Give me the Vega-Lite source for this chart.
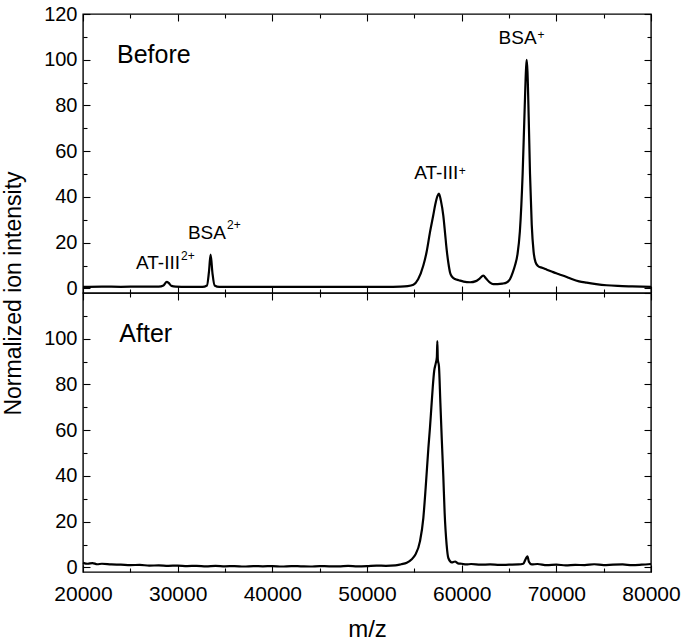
{
  "$schema": "https://vega.github.io/schema/vega-lite/v6.json",
  "padding": {"left": 1, "top": 3, "right": 5, "bottom": 5},
  "bounds": "flush",
  "background": "white",
  "config": {
    "view": {"stroke": "black", "strokeWidth": 1.4},
    "font": "Liberation Sans",
    "axis": {"domain": false, "grid": false, "tickColor": "black", "tickWidth": 1.1, "labelFont": "Liberation Sans", "labelFontSize": 20, "labelColor": "black", "titleFont": "Liberation Sans", "titleFontWeight": "normal", "titleColor": "black", "format": "d", "labelFlush": false}
  },
  "datasets": {
    "spec": [
      {"p": "Before", "mz": 20000, "v": 0.7}, {"p": "Before", "mz": 22000, "v": 0.8}, {"p": "Before", "mz": 24000, "v": 0.7}, {"p": "Before", "mz": 26000, "v": 0.8}, {"p": "Before", "mz": 28000, "v": 0.8},
      {"p": "Before", "mz": 28500, "v": 1.3}, {"p": "Before", "mz": 28850, "v": 2.9}, {"p": "Before", "mz": 29050, "v": 2.4}, {"p": "Before", "mz": 29350, "v": 1.1}, {"p": "Before", "mz": 29800, "v": 0.8},
      {"p": "Before", "mz": 31000, "v": 0.7}, {"p": "Before", "mz": 32600, "v": 0.7}, {"p": "Before", "mz": 33100, "v": 1.3}, {"p": "Before", "mz": 33300, "v": 7}, {"p": "Before", "mz": 33480, "v": 14.8},
      {"p": "Before", "mz": 33680, "v": 6.5}, {"p": "Before", "mz": 33900, "v": 1.3}, {"p": "Before", "mz": 34400, "v": 0.7}, {"p": "Before", "mz": 37000, "v": 0.7}, {"p": "Before", "mz": 41000, "v": 0.7},
      {"p": "Before", "mz": 45000, "v": 0.7}, {"p": "Before", "mz": 49000, "v": 0.7}, {"p": "Before", "mz": 52000, "v": 0.7}, {"p": "Before", "mz": 53500, "v": 0.8}, {"p": "Before", "mz": 54300, "v": 1.0},
      {"p": "Before", "mz": 54900, "v": 1.6}, {"p": "Before", "mz": 55400, "v": 4}, {"p": "Before", "mz": 55950, "v": 10}, {"p": "Before", "mz": 56300, "v": 16}, {"p": "Before", "mz": 56650, "v": 24.5},
      {"p": "Before", "mz": 57000, "v": 32}, {"p": "Before", "mz": 57200, "v": 36.5}, {"p": "Before", "mz": 57450, "v": 40.5}, {"p": "Before", "mz": 57600, "v": 41.5}, {"p": "Before", "mz": 57800, "v": 38.5},
      {"p": "Before", "mz": 58060, "v": 31.8}, {"p": "Before", "mz": 58250, "v": 24}, {"p": "Before", "mz": 58410, "v": 17.2}, {"p": "Before", "mz": 58600, "v": 11}, {"p": "Before", "mz": 58770, "v": 7},
      {"p": "Before", "mz": 59000, "v": 5}, {"p": "Before", "mz": 59300, "v": 4.1}, {"p": "Before", "mz": 59700, "v": 3.6}, {"p": "Before", "mz": 60200, "v": 3.0}, {"p": "Before", "mz": 60900, "v": 2.7},
      {"p": "Before", "mz": 61500, "v": 3.2}, {"p": "Before", "mz": 61900, "v": 4.3}, {"p": "Before", "mz": 62280, "v": 5.6}, {"p": "Before", "mz": 62600, "v": 4.2}, {"p": "Before", "mz": 63000, "v": 2.5},
      {"p": "Before", "mz": 63340, "v": 1.9}, {"p": "Before", "mz": 63800, "v": 1.9}, {"p": "Before", "mz": 64300, "v": 2.1}, {"p": "Before", "mz": 64750, "v": 2.6}, {"p": "Before", "mz": 65100, "v": 4},
      {"p": "Before", "mz": 65400, "v": 7}, {"p": "Before", "mz": 65630, "v": 10}, {"p": "Before", "mz": 65900, "v": 15}, {"p": "Before", "mz": 66150, "v": 25}, {"p": "Before", "mz": 66440, "v": 50},
      {"p": "Before", "mz": 66650, "v": 78}, {"p": "Before", "mz": 66800, "v": 96}, {"p": "Before", "mz": 66870, "v": 100}, {"p": "Before", "mz": 66950, "v": 95}, {"p": "Before", "mz": 67080, "v": 75},
      {"p": "Before", "mz": 67220, "v": 50}, {"p": "Before", "mz": 67400, "v": 28}, {"p": "Before", "mz": 67600, "v": 16}, {"p": "Before", "mz": 67800, "v": 11.5}, {"p": "Before", "mz": 68060, "v": 9.8},
      {"p": "Before", "mz": 68500, "v": 9.0}, {"p": "Before", "mz": 69000, "v": 8.2}, {"p": "Before", "mz": 69500, "v": 7.4}, {"p": "Before", "mz": 70000, "v": 6.6}, {"p": "Before", "mz": 70500, "v": 5.9},
      {"p": "Before", "mz": 71100, "v": 5.0}, {"p": "Before", "mz": 71700, "v": 4.0}, {"p": "Before", "mz": 72400, "v": 3.1}, {"p": "Before", "mz": 73200, "v": 2.5}, {"p": "Before", "mz": 74200, "v": 1.9},
      {"p": "Before", "mz": 75300, "v": 1.4}, {"p": "Before", "mz": 76500, "v": 1.1}, {"p": "Before", "mz": 78000, "v": 0.9}, {"p": "Before", "mz": 80000, "v": 0.7},

      {"p": "After", "mz": 20000, "v": 2.0}, {"p": "After", "mz": 20500, "v": 1.6}, {"p": "After", "mz": 21000, "v": 1.9}, {"p": "After", "mz": 21500, "v": 1.4}, {"p": "After", "mz": 22000, "v": 1.6},
      {"p": "After", "mz": 23000, "v": 1.3}, {"p": "After", "mz": 24000, "v": 1.2}, {"p": "After", "mz": 25000, "v": 1.0}, {"p": "After", "mz": 26000, "v": 1.1}, {"p": "After", "mz": 27000, "v": 0.8},
      {"p": "After", "mz": 28000, "v": 0.9}, {"p": "After", "mz": 29000, "v": 0.7}, {"p": "After", "mz": 30000, "v": 0.8}, {"p": "After", "mz": 31000, "v": 0.6}, {"p": "After", "mz": 32000, "v": 0.7},
      {"p": "After", "mz": 33000, "v": 0.5}, {"p": "After", "mz": 34000, "v": 0.7}, {"p": "After", "mz": 35000, "v": 0.5}, {"p": "After", "mz": 36000, "v": 0.6}, {"p": "After", "mz": 37000, "v": 0.4},
      {"p": "After", "mz": 38000, "v": 0.6}, {"p": "After", "mz": 39000, "v": 0.5}, {"p": "After", "mz": 40000, "v": 0.6}, {"p": "After", "mz": 41000, "v": 0.4}, {"p": "After", "mz": 42000, "v": 0.6},
      {"p": "After", "mz": 43000, "v": 0.5}, {"p": "After", "mz": 44000, "v": 0.4}, {"p": "After", "mz": 45000, "v": 0.6}, {"p": "After", "mz": 46000, "v": 0.5}, {"p": "After", "mz": 47000, "v": 0.5},
      {"p": "After", "mz": 48000, "v": 0.7}, {"p": "After", "mz": 49000, "v": 0.5}, {"p": "After", "mz": 50000, "v": 0.6}, {"p": "After", "mz": 51000, "v": 0.8}, {"p": "After", "mz": 52000, "v": 0.7},
      {"p": "After", "mz": 53000, "v": 0.9}, {"p": "After", "mz": 53600, "v": 1.4}, {"p": "After", "mz": 54200, "v": 2.0}, {"p": "After", "mz": 54700, "v": 3.5}, {"p": "After", "mz": 55100, "v": 5.5},
      {"p": "After", "mz": 55600, "v": 11.5}, {"p": "After", "mz": 55950, "v": 21.6}, {"p": "After", "mz": 56200, "v": 35}, {"p": "After", "mz": 56480, "v": 52}, {"p": "After", "mz": 56650, "v": 61},
      {"p": "After", "mz": 56800, "v": 70}, {"p": "After", "mz": 56950, "v": 79}, {"p": "After", "mz": 57100, "v": 86}, {"p": "After", "mz": 57250, "v": 89}, {"p": "After", "mz": 57380, "v": 92},
      {"p": "After", "mz": 57430, "v": 99}, {"p": "After", "mz": 57480, "v": 91}, {"p": "After", "mz": 57600, "v": 88}, {"p": "After", "mz": 57750, "v": 72}, {"p": "After", "mz": 57900, "v": 56},
      {"p": "After", "mz": 58060, "v": 40}, {"p": "After", "mz": 58200, "v": 24}, {"p": "After", "mz": 58410, "v": 10}, {"p": "After", "mz": 58600, "v": 4}, {"p": "After", "mz": 58950, "v": 2.2},
      {"p": "After", "mz": 59300, "v": 2.6}, {"p": "After", "mz": 59600, "v": 1.8}, {"p": "After", "mz": 60000, "v": 1.6}, {"p": "After", "mz": 60500, "v": 1.3}, {"p": "After", "mz": 61000, "v": 1.5},
      {"p": "After", "mz": 62000, "v": 1.2}, {"p": "After", "mz": 63000, "v": 1.3}, {"p": "After", "mz": 64000, "v": 1.1}, {"p": "After", "mz": 65000, "v": 1.2}, {"p": "After", "mz": 66000, "v": 1.3},
      {"p": "After", "mz": 66500, "v": 1.6}, {"p": "After", "mz": 66800, "v": 4.0}, {"p": "After", "mz": 66950, "v": 4.8}, {"p": "After", "mz": 67100, "v": 2.5}, {"p": "After", "mz": 67400, "v": 1.3},
      {"p": "After", "mz": 68000, "v": 1.5}, {"p": "After", "mz": 69000, "v": 1.0}, {"p": "After", "mz": 70000, "v": 1.2}, {"p": "After", "mz": 71000, "v": 0.9}, {"p": "After", "mz": 72000, "v": 1.1},
      {"p": "After", "mz": 73000, "v": 1.0}, {"p": "After", "mz": 74000, "v": 1.4}, {"p": "After", "mz": 75000, "v": 1.0}, {"p": "After", "mz": 76000, "v": 1.2}, {"p": "After", "mz": 77000, "v": 1.3},
      {"p": "After", "mz": 78000, "v": 1.0}, {"p": "After", "mz": 79000, "v": 1.2}, {"p": "After", "mz": 80000, "v": 1.5}
    ],
    "labels": [
      {"p": "Before", "r": "main", "mz": 67920, "v": 107, "t": "BSA"},
      {"p": "Before", "r": "sup", "mz": 68000, "v": 111, "t": "+"},
      {"p": "Before", "r": "main", "mz": 59640, "v": 47.9, "t": "AT-III"},
      {"p": "Before", "r": "sup", "mz": 59700, "v": 51.5, "t": "+"},
      {"p": "Before", "r": "main", "mz": 35100, "v": 21.6, "t": "BSA"},
      {"p": "Before", "r": "sup", "mz": 35210, "v": 27.8, "t": "2+"},
      {"p": "Before", "r": "main", "mz": 30250, "v": 8.5, "t": "AT-III"},
      {"p": "Before", "r": "sup", "mz": 30350, "v": 14.3, "t": "2+"},
      {"p": "Before", "r": "title", "mz": 23590, "v": 98.6, "t": "Before"},
      {"p": "After", "r": "title", "mz": 23840, "v": 98.6, "t": "After"}
    ]
  },
  "spacing": 0,
  "vconcat": [
    {
      "width": 568, "height": 279,
      "layer": [
        {
          "data": {"name": "spec"},
          "transform": [{"filter": "datum.p === 'Before'"}],
          "mark": {"type": "line", "color": "black", "strokeWidth": 2.2, "interpolate": "monotone"},
          "encoding": {
            "x": {"field": "mz", "type": "quantitative", "scale": {"domain": [20000, 80000], "nice": false, "zero": false},
                  "axis": {"orient": "bottom", "values": [20000, 30000, 40000, 50000, 60000, 70000, 80000], "labels": false, "tickSize": -7, "title": null}},
            "y": {"field": "v", "type": "quantitative", "scale": {"domain": [-2, 120], "nice": false, "zero": false},
                  "axis": {"orient": "left", "values": [0, 20, 40, 60, 80, 100, 120], "tickSize": -7, "labelPadding": 13, "title": "Normalized ion intensity", "titleFontSize": 23, "titleY": 279, "titlePadding": 18}}
          }
        },
        {
          "data": {"name": "labels"},
          "transform": [{"filter": "datum.p === 'Before' && datum.r === 'main'"}],
          "mark": {"type": "text", "align": "right", "baseline": "alphabetic", "fontSize": 19, "font": "Liberation Sans", "color": "black"},
          "encoding": {
            "x": {"field": "mz", "type": "quantitative", "scale": {"domain": [20000, 80000], "nice": false, "zero": false},
                  "axis": {"orient": "bottom", "values": [25000, 35000, 45000, 55000, 65000, 75000], "labels": false, "tickSize": -4, "title": null}},
            "y": {"field": "v", "type": "quantitative", "scale": {"domain": [-2, 120], "nice": false, "zero": false},
                  "axis": {"orient": "left", "values": [10, 30, 50, 70, 90, 110], "labels": false, "tickSize": -4, "title": null}},
            "text": {"field": "t"}
          }
        },
        {
          "data": {"name": "labels"},
          "transform": [{"filter": "datum.p === 'Before' && datum.r === 'sup'"}],
          "mark": {"type": "text", "align": "left", "baseline": "middle", "fontSize": 12, "font": "Liberation Sans", "color": "black"},
          "encoding": {
            "x": {"field": "mz", "type": "quantitative", "scale": {"domain": [20000, 80000], "nice": false, "zero": false},
                  "axis": {"orient": "top", "values": [20000, 30000, 40000, 50000, 60000, 70000, 80000], "labels": false, "tickSize": -7, "title": null}},
            "y": {"field": "v", "type": "quantitative", "scale": {"domain": [-2, 120], "nice": false, "zero": false},
                  "axis": {"orient": "right", "values": [0, 20, 40, 60, 80, 100, 120], "labels": false, "tickSize": -7, "title": null}},
            "text": {"field": "t"}
          }
        },
        {
          "data": {"name": "labels"},
          "transform": [{"filter": "datum.p === 'Before' && datum.r === 'title'"}],
          "mark": {"type": "text", "align": "left", "baseline": "alphabetic", "fontSize": 25, "font": "Liberation Sans", "color": "black"},
          "encoding": {
            "x": {"field": "mz", "type": "quantitative", "scale": {"domain": [20000, 80000], "nice": false, "zero": false},
                  "axis": {"orient": "top", "values": [25000, 35000, 45000, 55000, 65000, 75000], "labels": false, "tickSize": -4, "title": null}},
            "y": {"field": "v", "type": "quantitative", "scale": {"domain": [-2, 120], "nice": false, "zero": false},
                  "axis": {"orient": "right", "values": [10, 30, 50, 70, 90, 110], "labels": false, "tickSize": -4, "title": null}},
            "text": {"field": "t"}
          }
        }
      ],
      "resolve": {"axis": {"x": "independent", "y": "independent"}}
    },
    {
      "width": 568, "height": 279,
      "layer": [
        {
          "data": {"name": "spec"},
          "transform": [{"filter": "datum.p === 'After'"}],
          "mark": {"type": "line", "color": "black", "strokeWidth": 2.2, "interpolate": "monotone"},
          "encoding": {
            "x": {"field": "mz", "type": "quantitative", "scale": {"domain": [20000, 80000], "nice": false, "zero": false},
                  "axis": {"orient": "bottom", "values": [20000, 30000, 40000, 50000, 60000, 70000, 80000], "tickSize": -7, "labelPadding": 18, "labelFontSize": 21, "title": "m/z", "titleFontSize": 24, "titlePadding": 13}},
            "y": {"field": "v", "type": "quantitative", "scale": {"domain": [-2, 120], "nice": false, "zero": false},
                  "axis": {"orient": "left", "values": [0, 20, 40, 60, 80, 100], "tickSize": -7, "labelPadding": 13, "title": null}}
          }
        },
        {
          "data": {"name": "labels"},
          "transform": [{"filter": "datum.p === 'After' && datum.r === 'title'"}],
          "mark": {"type": "text", "align": "left", "baseline": "alphabetic", "fontSize": 25, "font": "Liberation Sans", "color": "black"},
          "encoding": {
            "x": {"field": "mz", "type": "quantitative", "scale": {"domain": [20000, 80000], "nice": false, "zero": false},
                  "axis": {"orient": "bottom", "values": [25000, 35000, 45000, 55000, 65000, 75000], "labels": false, "tickSize": -4, "title": null}},
            "y": {"field": "v", "type": "quantitative", "scale": {"domain": [-2, 120], "nice": false, "zero": false},
                  "axis": {"orient": "left", "values": [10, 30, 50, 70, 90, 110], "labels": false, "tickSize": -4, "title": null}},
            "text": {"field": "t"}
          }
        },
        {
          "data": {"name": "labels"},
          "transform": [{"filter": "datum.p === 'After' && datum.r === 'title'"}],
          "mark": {"type": "text", "align": "left", "baseline": "alphabetic", "fontSize": 25, "font": "Liberation Sans", "opacity": 0},
          "encoding": {
            "x": {"field": "mz", "type": "quantitative", "scale": {"domain": [20000, 80000], "nice": false, "zero": false},
                  "axis": {"orient": "top", "values": [20000, 30000, 40000, 50000, 60000, 70000, 80000], "labels": false, "tickSize": -7, "title": null}},
            "y": {"field": "v", "type": "quantitative", "scale": {"domain": [-2, 120], "nice": false, "zero": false},
                  "axis": {"orient": "right", "values": [0, 20, 40, 60, 80, 100, 120], "labels": false, "tickSize": -7, "title": null}},
            "text": {"field": "t"}
          }
        },
        {
          "data": {"name": "labels"},
          "transform": [{"filter": "datum.p === 'After' && datum.r === 'title'"}],
          "mark": {"type": "text", "align": "left", "baseline": "alphabetic", "fontSize": 25, "font": "Liberation Sans", "opacity": 0},
          "encoding": {
            "x": {"field": "mz", "type": "quantitative", "scale": {"domain": [20000, 80000], "nice": false, "zero": false},
                  "axis": {"orient": "top", "values": [25000, 35000, 45000, 55000, 65000, 75000], "labels": false, "tickSize": -4, "title": null}},
            "y": {"field": "v", "type": "quantitative", "scale": {"domain": [-2, 120], "nice": false, "zero": false},
                  "axis": {"orient": "right", "values": [10, 30, 50, 70, 90, 110], "labels": false, "tickSize": -4, "title": null}},
            "text": {"field": "t"}
          }
        }
      ],
      "resolve": {"axis": {"x": "independent", "y": "independent"}}
    }
  ]
}
